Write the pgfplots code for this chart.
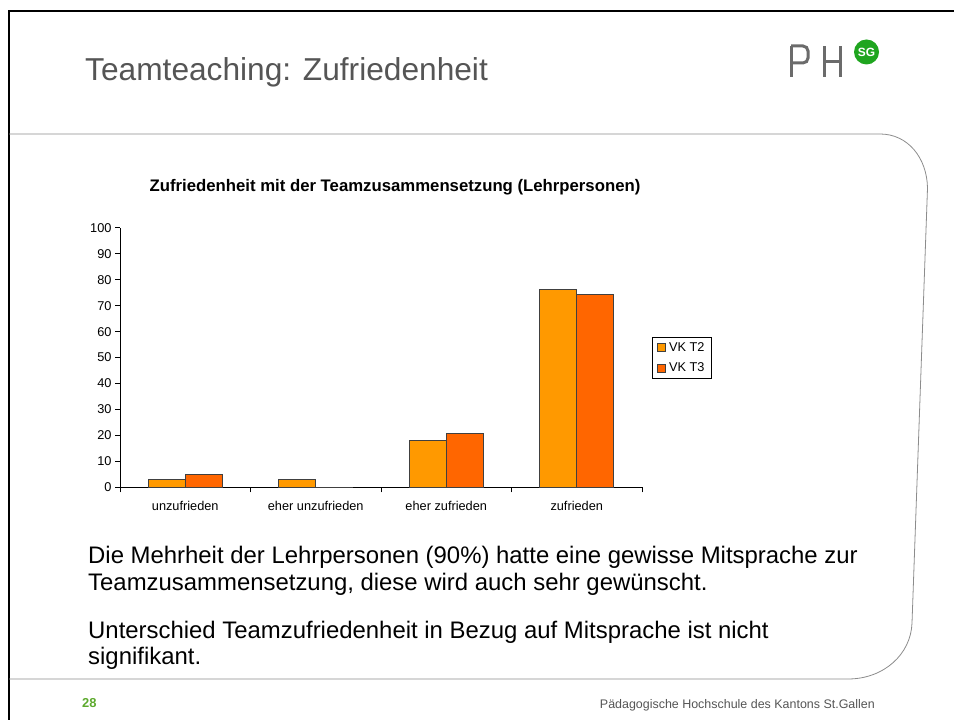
\documentclass[border=0pt]{standalone}
\usepackage{fontspec}
\setmainfont{Liberation Sans}
\usepackage{pgfplots}
\pgfplotsset{compat=1.18}
\definecolor{vktwo}{HTML}{FF9900}
\definecolor{vkthree}{HTML}{FF6600}
\definecolor{framegray}{HTML}{8C8C8C}
\definecolor{titlegray}{HTML}{555555}
\definecolor{logogray}{HTML}{6B6B6B}
\definecolor{logogreen}{HTML}{1FA51F}
\definecolor{pagegreen}{HTML}{5DAA2E}

\begin{document}
\begin{tikzpicture}[x=1bp,y=1bp]
\path[use as bounding box] (0,0) rectangle (954,720);

% slide frame
\draw[black, line width=2bp] (9,0) -- (9,709) -- (954,709);
\draw[framegray, line width=0.8bp] (9,586) -- (880,586)
  .. controls (908,586) and (927,562) .. (927.5,532)
  -- (912,97) .. controls (911,66) and (884,41) .. (848,41) -- (9,41);

% slide title and logo
\node[anchor=base west, inner sep=0, text=titlegray,
  font=\fontsize{31.8}{36}\selectfont] at (85,639) {Teamteaching: Zufriedenheit};
\begin{scope}[logogray, line width=3bp]
  \draw (791,643) -- (791,674);
  \draw[rounded corners=5bp] (791,674) -- (808,674) -- (808,657) -- (791,657);
  \draw (824,643) -- (824,674);
  \draw (840,643) -- (840,674);
  \draw (824,658) -- (840,658);
\end{scope}
\fill[logogreen] (866.5,668) circle (12.5);
\node[text=white, font=\fontsize{12}{14}\selectfont\bfseries, inner sep=0] at (866.5,668) {SG};

% chart title
\node[font=\fontsize{16.8}{18}\selectfont\bfseries] at (395,533)
  {Zufriedenheit mit der Teamzusammensetzung (Lehrpersonen)};

\begin{axis}[
  at={(120bp,232.7bp)}, anchor=south west,
  scale only axis, width=522bp, height=259.4bp,
  xmin=-0.5, xmax=3.5, ymin=0, ymax=100,
  separate axis lines,
  axis x line*=bottom, axis y line*=left,
  axis line style={-, black, line width=0.8bp},
  ybar=0pt, bar width=37bp,
  xtick={-0.5,0.5,1.5,2.5,3.5},
  x tick label as interval,
  xticklabels={unzufrieden, eher unzufrieden, eher zufrieden, zufrieden},
  xticklabel style={yshift=-5bp},
  ytick={0,10,...,100},
  tick align=outside, major tick length=5bp,
  tick style={black, line width=0.8bp},
  tick label style={font=\fontsize{12.8}{14}\selectfont},
  /pgf/number format/assume math mode=true,
  legend cell align=left,
  legend style={at={(1.019,0.579)}, anchor=north west, draw=black,
    line width=0.6bp, font=\fontsize{12.8}{14}\selectfont,
    inner xsep=5bp, inner ysep=3bp, row sep=6bp,
    /tikz/every odd column/.append style={column sep=1bp}},
  legend image code/.code={\draw[#1, line width=0.8bp] (0bp,-4bp) rectangle (8bp,4bp);},
]
\addplot[fill=vktwo, draw=black!75, line width=1.2bp] coordinates {
  (0,2.9) (1,2.9) (2,17.9) (3,76.1)
};
\addplot[fill=vkthree, draw=black!75, line width=1.2bp] coordinates {
  (0,5.0) (1,0) (2,20.7) (3,74.2)
};
\legend{VK T2, VK T3}
\end{axis}

% body text
\begin{scope}[every node/.style={anchor=base west, inner sep=0,
    font=\fontsize{24}{28}\selectfont}]
  \node at (88,156) {Die Mehrheit der Lehrpersonen (90\%) hatte eine gewisse Mitsprache zur};
  \node at (88,129) {Teamzusammensetzung, diese wird auch sehr gewünscht.};
  \node at (88,81) {Unterschied Teamzufriedenheit in Bezug auf Mitsprache ist nicht};
  \node at (88,55) {signifikant.};
\end{scope}

% footer
\node[anchor=base west, inner sep=0, text=pagegreen,
  font=\fontsize{13}{15}\selectfont\bfseries] at (82,12) {28};
\node[anchor=base east, inner sep=0, text=titlegray,
  font=\fontsize{12.5}{15}\selectfont] at (875,11) {Pädagogische Hochschule des Kantons St.Gallen};
\end{tikzpicture}
\end{document}
